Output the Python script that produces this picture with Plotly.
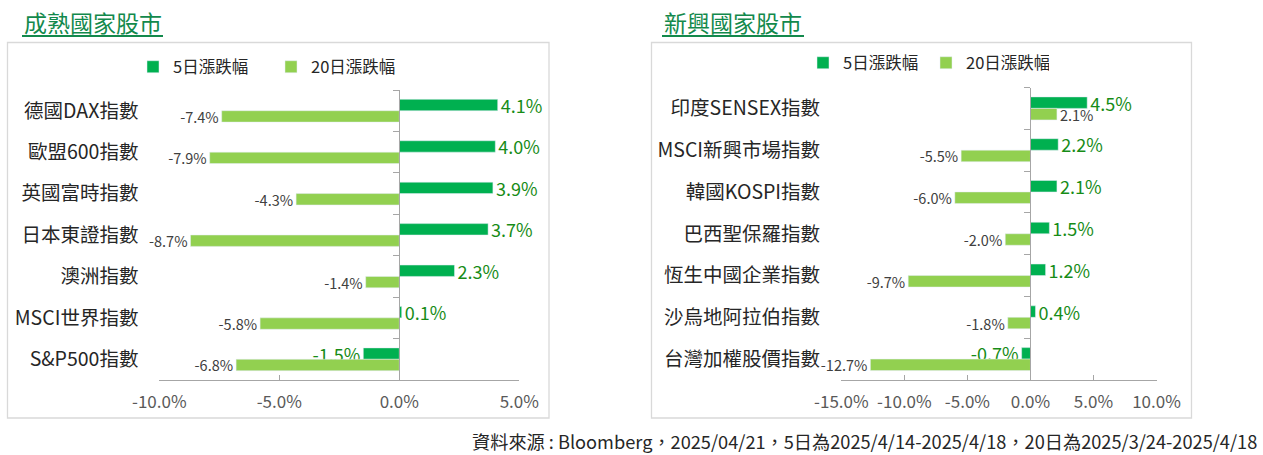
import plotly.graph_objects as go

W, H = 1263, 455

# ---------------- data ----------------
series_names = ["5日漲跌幅", "20日漲跌幅"]

dev_names = ["德國DAX指數", "歐盟600指數", "英國富時指數", "日本東證指數",
             "澳洲指數", "MSCI世界指數", "S&P500指數"]
dev_5d = [4.1, 4.0, 3.9, 3.7, 2.3, 0.1, -1.5]
dev_20d = [-7.4, -7.9, -4.3, -8.7, -1.4, -5.8, -6.8]

em_names = ["印度SENSEX指數", "MSCI新興市場指數", "韓國KOSPI指數", "巴西聖保羅指數",
            "恆生中國企業指數", "沙烏地阿拉伯指數", "台灣加權股價指數"]
em_5d = [4.5, 2.2, 2.1, 1.5, 1.2, 0.4, -0.7]
em_20d = [2.1, -5.5, -6.0, -2.0, -9.7, -1.8, -12.7]

dev_ticks = [-10, -5, 0, 5]
em_ticks = [-15, -10, -5, 0, 5, 10]

titles = ["成熟國家股市", "新興國家股市"]
source_text = "資料來源 : Bloomberg，2025/04/21，5日為2025/4/14-2025/4/18，20日為2025/3/24-2025/4/18"

# ---------------- styles ----------------
FONT = "Noto Sans CJK TC, Noto Sans, sans-serif"
C5 = "#00B050"
C20 = "#92D050"
C5_TXT = "#178C17"
C20_TXT = "#404040"
TITLE_C = "#13894C"
AXIS_C = "#A6A6A6"


def pct(v):
    return f"{v:.1f}%"


fig = go.Figure()


def add_pair(names, v5, v20, xa, ya, legend):
    fig.add_trace(go.Bar(
        y=names, x=v5, orientation="h", name=series_names[0], marker_color=C5,
        xaxis=xa, yaxis=ya, legend=legend,
        text=[pct(v) for v in v5], textposition="outside", cliponaxis=False,
        constraintext="none",
        textfont=dict(family=FONT, size=18, color=C5_TXT), hoverinfo="skip"))
    fig.add_trace(go.Bar(
        y=names, x=v20, orientation="h", name=series_names[1], marker_color=C20,
        xaxis=xa, yaxis=ya, legend=legend,
        text=[pct(v) for v in v20], textposition="outside", cliponaxis=False,
        constraintext="none",
        textfont=dict(family=FONT, size=14.5, color=C20_TXT), hoverinfo="skip"))


add_pair(dev_names, dev_5d, dev_20d, "x", "y", "legend")
add_pair(em_names, em_5d, em_20d, "x2", "y2", "legend2")


def xaxis_cfg(domain_px, rng, ticks):
    return dict(domain=[domain_px[0] / W, domain_px[1] / W], range=rng,
                tickvals=ticks, ticktext=[pct(t) for t in ticks],
                ticks="inside", ticklen=5, tickcolor=AXIS_C, ticklabelstandoff=7,
                showline=True, linecolor=AXIS_C, linewidth=1,
                showgrid=False, zeroline=False, fixedrange=True, automargin=False,
                tickfont=dict(family=FONT, size=17, color="#595959"))


def yaxis_cfg(top_px, bot_px, zero_px, standoff):
    return dict(domain=[1 - bot_px / H, 1 - top_px / H], type="category",
                autorange="reversed", anchor="free", position=zero_px / W,
                showline=True, linecolor=AXIS_C, linewidth=1,
                ticks="outside", ticklen=6, tickcolor=AXIS_C, tickson="boundaries",
                ticklabelstandoff=standoff, showgrid=False, zeroline=False,
                fixedrange=True, automargin=False,
                tickfont=dict(family=FONT, size=19.5, color="#262626"))


legend_base = dict(orientation="h", xanchor="left", yanchor="middle",
                   bgcolor="rgba(0,0,0,0)", itemclick=False, itemdoubleclick=False,
                   font=dict(family=FONT, size=16.5, color="#262626"),
                   traceorder="normal")

fig.update_layout(
    width=W, height=H, margin=dict(l=0, r=0, t=0, b=0, autoexpand=False),
    paper_bgcolor="white", plot_bgcolor="white",
    barmode="group", bargap=0.45, bargroupgap=0,
    font=dict(family=FONT),
    xaxis=xaxis_cfg((159.3, 519.3), [-10, 5], dev_ticks),
    yaxis=yaxis_cfg(90, 380, 399.3, 257),
    xaxis2=xaxis_cfg((841.4, 1156.5), [-15, 10], em_ticks),
    yaxis2=yaxis_cfg(87.5, 380, 1030, 206),
    legend=dict(legend_base, x=133 / W, y=1 - 67 / H, entrywidth=93),
    legend2=dict(legend_base, x=803 / W, y=1 - 63 / H, entrywidth=78),
    shapes=[
        dict(type="rect", xref="paper", yref="paper",
             x0=7.5 / W, x1=549 / W, y0=1 - 418 / H, y1=1 - 42.5 / H,
             line=dict(color="#D9D9D9", width=1.3), fillcolor="rgba(0,0,0,0)", layer="below"),
        dict(type="rect", xref="paper", yref="paper",
             x0=651.5 / W, x1=1191.5 / W, y0=1 - 418 / H, y1=1 - 42.5 / H,
             line=dict(color="#D9D9D9", width=1.3), fillcolor="rgba(0,0,0,0)", layer="below"),
        dict(type="line", xref="paper", yref="paper",
             x0=22 / W, x1=163 / W, y0=1 - 36 / H, y1=1 - 36 / H,
             line=dict(color=TITLE_C, width=2)),
        dict(type="line", xref="paper", yref="paper",
             x0=662 / W, x1=804 / W, y0=1 - 36 / H, y1=1 - 36 / H,
             line=dict(color=TITLE_C, width=2)),
    ],
    annotations=[
        dict(text=titles[0], xref="paper", yref="paper", x=22 / W, y=1 - 22 / H,
             xanchor="left", yanchor="middle", showarrow=False,
             font=dict(family=FONT, size=23, color=TITLE_C)),
        dict(text=titles[1], xref="paper", yref="paper", x=662 / W, y=1 - 22 / H,
             xanchor="left", yanchor="middle", showarrow=False,
             font=dict(family=FONT, size=23, color=TITLE_C)),
        dict(text=source_text, xref="paper", yref="paper", x=1259 / W, y=1 - 441 / H,
             xanchor="right", yanchor="middle", showarrow=False,
             font=dict(family=FONT, size=18.2, color="#262626")),
    ],
)

fig.write_html(
    "out.html",
    config={"displayModeBar": False, "staticPlot": True},
    post_script="document.body.style.margin='0';document.body.style.overflow='hidden';",
)
